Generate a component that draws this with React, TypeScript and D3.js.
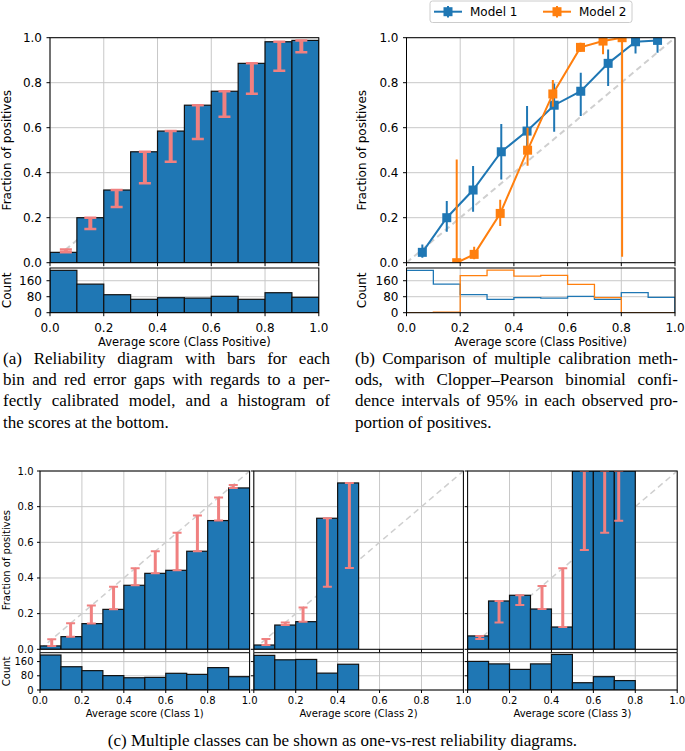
import React from "react";
import * as d3 from "d3";

// ---- data ----
const binEdges = [0, 0.1, 0.2, 0.3, 0.4, 0.5, 0.6, 0.7, 0.8, 0.9, 1.0];
const xTickValues = [0, 0.2, 0.4, 0.6, 0.8, 1.0];
const fracTickValues = [0, 0.2, 0.4, 0.6, 0.8, 1.0];
const countTickValues = [0, 80, 160];

// (a) / model 1
const posFraction = [0.046, 0.2, 0.323, 0.493, 0.585, 0.7, 0.762, 0.886, 0.982, 0.988];
const posMeanScore = [0.059, 0.15, 0.248, 0.353, 0.449, 0.55, 0.649, 0.751, 0.853, 0.935];
const posCounts = [212, 143, 90, 67, 75, 73, 82, 67, 100, 77];
const model1Lo = [0.022, 0.138, 0.227, 0.37, 0.486, 0.582, 0.652, 0.785, 0.93, 0.933];
const model1Hi = [0.081, 0.274, 0.43, 0.616, 0.696, 0.797, 0.844, 0.948, 1.0, 1.0];

// (b) model 2
const model2Score = [0.187, 0.252, 0.349, 0.451, 0.545, 0.648, 0.732, 0.803];
const model2Fraction = [0.0, 0.037, 0.219, 0.5, 0.75, 0.957, 0.985, 1.0];
const model2Lo = [0.0, 0.015, 0.163, 0.431, 0.693, 0.938, 0.927, 0.027];
const model2Hi = [0.459, 0.071, 0.28, 0.6, 0.812, 0.978, 1.0, 1.0];
const model2Counts = [0, 3, 185, 213, 183, 187, 142, 75, 0, 0];

// (c) one-vs-rest
const class1Fraction = [0.019, 0.071, 0.144, 0.224, 0.359, 0.426, 0.443, 0.55, 0.722, 0.905];
const class1Mean = [0.056, 0.146, 0.245, 0.351, 0.454, 0.55, 0.654, 0.751, 0.852, 0.922];
const class1Counts = [197, 131, 109, 81, 69, 71, 94, 88, 126, 75];

const class2Fraction = [0.024, 0.136, 0.155, 0.735, 0.933];
const class2Mean = [0.058, 0.15, 0.235, 0.351, 0.456];
const class2Counts = [195, 170, 172, 95, 145];

const class3Fraction = [0.075, 0.271, 0.303, 0.226, 0.125, 1.0, 1.0, 1.0];
const class3Mean = [0.058, 0.15, 0.249, 0.355, 0.454, 0.557, 0.654, 0.721];
const class3Counts = [161, 147, 116, 147, 200, 41, 75, 53];

const captionA = [
  "(a) Reliability diagram with bars for each",
  "bin and red error gaps with regards to a per-",
  "fectly calibrated model, and a histogram of",
  "the scores at the bottom.",
];
const captionB = [
  "(b) Comparison of multiple calibration meth-",
  "ods, with Clopper\u2013Pearson binomial confi-",
  "dence intervals of 95% in each observed pro-",
  "portion of positives.",
];
const captionC = "(c) Multiple classes can be shown as one-vs-rest reliability diagrams.";

// ---- styling ----
const SANS = "DejaVu Sans, sans-serif";
const SERIF = "Liberation Serif, Times New Roman, serif";
const BLUE = "#1f77b4";
const ORANGE = "#ff7f0e";
const GAP = "#f08080";
const GRID = "#c8c8c8";
const DIAG = "#cfcfcf";

type Scale = d3.ScaleLinear<number, number>;
const fmt1 = d3.format(".1f");

interface PanelProps {
  id: string;
  x: Scale;
  y: Scale;
  xTicks: number[];
  yTicks: number[];
  xLabel?: (v: number) => string | null;
  yLabel?: (v: number) => string;
  fs: number;
  tick: number;
  xPad: number;
  yPad: number;
  children?: React.ReactNode;
}

function Panel({ id, x, y, xTicks, yTicks, xLabel, yLabel, fs, tick, xPad, yPad, children }: PanelProps) {
  const [l, r] = x.range();
  const [b, t] = y.range();
  return (
    <g>
      <clipPath id={id}>
        <rect x={l} y={t} width={r - l} height={b - t} />
      </clipPath>
      <g stroke={GRID} strokeWidth={1}>
        {xTicks.map((v) => (
          <line key={"gx" + v} x1={x(v)} x2={x(v)} y1={t} y2={b} />
        ))}
        {yTicks.map((v) => (
          <line key={"gy" + v} x1={l} x2={r} y1={y(v)} y2={y(v)} />
        ))}
      </g>
      <g clipPath={`url(#${id})`}>{children}</g>
      <rect x={l} y={t} width={r - l} height={b - t} fill="none" stroke="#000" strokeWidth={1} />
      <g stroke="#000" strokeWidth={1}>
        {xTicks.map((v) => (
          <line key={"tx" + v} x1={x(v)} x2={x(v)} y1={b} y2={b + tick} />
        ))}
        {yTicks.map((v) => (
          <line key={"ty" + v} x1={l - tick} x2={l} y1={y(v)} y2={y(v)} />
        ))}
      </g>
      <g fontFamily={SANS} fontSize={fs} fill="#000">
        {xLabel &&
          xTicks.map((v) => {
            const s = xLabel(v);
            return s == null ? null : (
              <text key={"lx" + v} x={x(v)} y={b + xPad} textAnchor="middle" dominantBaseline="central">
                {s}
              </text>
            );
          })}
        {yLabel &&
          yTicks.map((v) => (
            <text key={"ly" + v} x={l - yPad} y={y(v)} textAnchor="end" dominantBaseline="central">
              {yLabel(v)}
            </text>
          ))}
      </g>
    </g>
  );
}

function Diagonal({ x, y, w }: { x: Scale; y: Scale; w: number }) {
  return <line x1={x(0)} y1={y(0)} x2={x(1)} y2={y(1)} stroke={DIAG} strokeWidth={w} strokeDasharray="6,4" />;
}

function FracBars({ x, y, frac, mean, stem, capW, capS }: {
  x: Scale; y: Scale; frac: number[]; mean: number[]; stem: number; capW: number; capS: number;
}) {
  return (
    <g>
      {frac.map((f, i) => (
        <rect
          key={"b" + i}
          x={x(binEdges[i])}
          y={y(f)}
          width={x(binEdges[i + 1]) - x(binEdges[i])}
          height={y(0) - y(f)}
          fill={BLUE}
          stroke="#111"
          strokeWidth={1.2}
        />
      ))}
      {frac.map((f, i) => {
        const cx = x(mean[i]);
        return (
          <g key={"e" + i} stroke={GAP}>
            <line x1={cx} x2={cx} y1={y(f)} y2={y(mean[i])} strokeWidth={stem} />
            <line x1={cx - capW / 2} x2={cx + capW / 2} y1={y(f)} y2={y(f)} strokeWidth={capS} />
            <line x1={cx - capW / 2} x2={cx + capW / 2} y1={y(mean[i])} y2={y(mean[i])} strokeWidth={capS} />
          </g>
        );
      })}
    </g>
  );
}

function CountBars({ x, y, counts }: { x: Scale; y: Scale; counts: number[] }) {
  return (
    <g>
      {counts.map((c, i) => (
        <rect
          key={"c" + i}
          x={x(binEdges[i])}
          y={y(c)}
          width={x(binEdges[i + 1]) - x(binEdges[i])}
          height={y(0) - y(c)}
          fill={BLUE}
          stroke="#111"
          strokeWidth={1.2}
        />
      ))}
    </g>
  );
}

function stepPath(counts: number[], x: Scale, y: Scale) {
  let d = `M${x(binEdges[0])},${y(0)}`;
  counts.forEach((c, i) => {
    d += `V${y(c)}H${x(binEdges[i + 1])}`;
  });
  return d + `V${y(0)}`;
}

function ModelSeries({ x, y, score, frac, lo, hi, color }: {
  x: Scale; y: Scale; score: number[]; frac: number[]; lo: number[]; hi: number[]; color: string;
}) {
  const line = d3
    .line<number>()
    .x((_, i) => x(score[i]))
    .y((f) => y(f));
  return (
    <g>
      <path d={line(frac) ?? ""} fill="none" stroke={color} strokeWidth={2} />
      {frac.map((f, i) => (
        <line key={"er" + i} x1={x(score[i])} x2={x(score[i])} y1={y(lo[i])} y2={y(hi[i])} stroke={color} strokeWidth={2} />
      ))}
      {frac.map((f, i) => (
        <rect key={"m" + i} x={x(score[i]) - 4.5} y={y(f) - 4.5} width={9} height={9} fill={color} />
      ))}
    </g>
  );
}

let measureCtx: CanvasRenderingContext2D | null = null;
function measure(s: string, font: string) {
  if (!measureCtx) measureCtx = document.createElement("canvas").getContext("2d");
  if (!measureCtx) return s.length * 7;
  measureCtx.font = font;
  return measureCtx.measureText(s).width;
}

function Justified({ lines, x0, x1, y0, lh, fs }: { lines: string[]; x0: number; x1: number; y0: number; lh: number; fs: number }) {
  const font = `${fs}px "Liberation Serif"`;
  return (
    <text fontFamily={SERIF} fontSize={fs} fill="#000" dominantBaseline="central">
      {lines.map((ln, li) => {
        const yy = y0 + li * lh;
        if (li === lines.length - 1)
          return (
            <tspan key={"l" + li} x={x0} y={yy}>
              {ln}
            </tspan>
          );
        const words = ln.split(" ");
        const widths = words.map((w) => measure(w, font));
        const gap = (x1 - x0 - d3.sum(widths)) / (words.length - 1);
        let cx = x0;
        return words.map((w, wi) => {
          const el = (
            <tspan key={`w${li}-${wi}`} x={cx} y={yy}>
              {w}
            </tspan>
          );
          cx += widths[wi] + gap;
          return el;
        });
      })}
    </text>
  );
}

function RotLabel({ x, y, text, fs }: { x: number; y: number; text: string; fs: number }) {
  return (
    <text transform={`translate(${x},${y}) rotate(-90)`} textAnchor="middle" dominantBaseline="central" fontFamily={SANS} fontSize={fs}>
      {text}
    </text>
  );
}

export default function App() {
  // top row geometry
  const mainTop = 37.7, mainBottom = 262.7, cntTop = 268, cntBottom = 312.7;
  const abMax = (d3.max([...posCounts, ...model2Counts]) ?? 0) * 1.05;
  const yFracAB = d3.scaleLinear().domain([0, 1]).range([mainBottom, mainTop]);
  const yCntAB = d3.scaleLinear().domain([0, abMax]).range([cntBottom, cntTop]);
  const xA = d3.scaleLinear().domain([0, 1]).range([50, 318.8]);
  const xB = d3.scaleLinear().domain([0, 1]).range([406.5, 675]);

  // bottom row geometry
  const cMainTop = 471, cMainBottom = 649.3, cCntTop = 652.7, cCntBottom = 690;
  const cMax = (d3.max([...class1Counts, ...class2Counts, ...class3Counts]) ?? 0) * 1.05;
  const yFracC = d3.scaleLinear().domain([0, 1]).range([cMainBottom, cMainTop]);
  const yCntC = d3.scaleLinear().domain([0, cMax]).range([cCntBottom, cCntTop]);
  const subW = 209.6;
  const subLefts = [40, 253.8, 467.6];
  const xC = subLefts.map((l) => d3.scaleLinear().domain([0, 1]).range([l, l + subW]));
  const classes = [
    { frac: class1Fraction, mean: class1Mean, counts: class1Counts, name: "Average score (Class 1)" },
    { frac: class2Fraction, mean: class2Mean, counts: class2Counts, name: "Average score (Class 2)" },
    { frac: class3Fraction, mean: class3Mean, counts: class3Counts, name: "Average score (Class 3)" },
  ];

  const abCommon = { fs: 12, tick: 3.5, xPad: 15.5, yPad: 8 };
  const cCommon = { fs: 10, tick: 3, xPad: 10.5, yPad: 6.5 };

  return (
    <svg width={685} height={751} style={{ position: "absolute", left: 0, top: 0, background: "#fff" }}>
      <rect width={685} height={751} fill="#fff" />

      {/* (a) */}
      <Panel id="a-main" x={xA} y={yFracAB} xTicks={xTickValues} yTicks={fracTickValues} yLabel={fmt1} {...abCommon}>
        <Diagonal x={xA} y={yFracAB} w={2} />
        <FracBars x={xA} y={yFracAB} frac={posFraction} mean={posMeanScore} stem={4} capW={12} capS={2.5} />
      </Panel>
      <Panel id="a-cnt" x={xA} y={yCntAB} xTicks={xTickValues} yTicks={countTickValues} xLabel={fmt1} yLabel={(v) => String(v)} {...abCommon}>
        <CountBars x={xA} y={yCntAB} counts={posCounts} />
      </Panel>
      <RotLabel x={7} y={(mainTop + mainBottom) / 2} text="Fraction of positives" fs={12} />
      <RotLabel x={7} y={(cntTop + cntBottom) / 2} text="Count" fs={12} />
      <text x={(xA(0) + xA(1)) / 2} y={342} textAnchor="middle" dominantBaseline="central" fontFamily={SANS} fontSize={11.5}>
        Average score (Class Positive)
      </text>

      {/* (b) */}
      <Panel id="b-main" x={xB} y={yFracAB} xTicks={xTickValues} yTicks={fracTickValues} yLabel={fmt1} {...abCommon}>
        <Diagonal x={xB} y={yFracAB} w={2} />
        <ModelSeries x={xB} y={yFracAB} score={posMeanScore} frac={posFraction} lo={model1Lo} hi={model1Hi} color={BLUE} />
        <ModelSeries x={xB} y={yFracAB} score={model2Score} frac={model2Fraction} lo={model2Lo} hi={model2Hi} color={ORANGE} />
      </Panel>
      <Panel id="b-cnt" x={xB} y={yCntAB} xTicks={xTickValues} yTicks={countTickValues} xLabel={fmt1} yLabel={(v) => String(v)} {...abCommon}>
        <path d={stepPath(posCounts, xB, yCntAB)} fill="none" stroke={BLUE} strokeWidth={1.3} />
        <path d={stepPath(model2Counts, xB, yCntAB)} fill="none" stroke={ORANGE} strokeWidth={1.3} />
      </Panel>
      <RotLabel x={362} y={(mainTop + mainBottom) / 2} text="Fraction of positives" fs={12} />
      <RotLabel x={362} y={(cntTop + cntBottom) / 2} text="Count" fs={12} />
      <text x={(xB(0) + xB(1)) / 2} y={342} textAnchor="middle" dominantBaseline="central" fontFamily={SANS} fontSize={11.5}>
        Average score (Class Positive)
      </text>

      {/* legend */}
      <g fontFamily={SANS} fontSize={12}>
        <rect x={430} y={1} width={202} height={21.5} rx={2.5} fill="#fff" stroke="#ccc" strokeWidth={1} />
        {[
          { c: BLUE, t: "Model 1", x: 434 },
          { c: ORANGE, t: "Model 2", x: 543 },
        ].map((e) => (
          <g key={e.t}>
            <line x1={e.x} x2={e.x + 28} y1={11.7} y2={11.7} stroke={e.c} strokeWidth={2} />
            <line x1={e.x + 14} x2={e.x + 14} y1={6} y2={17.4} stroke={e.c} strokeWidth={2} />
            <rect x={e.x + 9.5} y={7.2} width={9} height={9} fill={e.c} />
            <text x={e.x + 36} y={11.7} dominantBaseline="central">
              {e.t}
            </text>
          </g>
        ))}
      </g>

      <Justified lines={captionA} x0={3} x1={330} y0={358} lh={21.2} fs={17} />
      <Justified lines={captionB} x0={355} x1={678} y0={358} lh={21.2} fs={17} />

      {/* (c) */}
      {classes.map((cl, k) => {
        const xs = xC[k];
        const lab = (v: number) => (k > 0 && v === 0 ? null : fmt1(v));
        return (
          <g key={"c" + k}>
            <Panel id={`c-main-${k}`} x={xs} y={yFracC} xTicks={xTickValues} yTicks={fracTickValues} yLabel={k === 0 ? fmt1 : undefined} {...cCommon}>
              <Diagonal x={xs} y={yFracC} w={1.5} />
              <FracBars x={xs} y={yFracC} frac={cl.frac} mean={cl.mean} stem={3} capW={9} capS={2} />
            </Panel>
            <Panel id={`c-cnt-${k}`} x={xs} y={yCntC} xTicks={xTickValues} yTicks={countTickValues} xLabel={lab} yLabel={k === 0 ? (v) => String(v) : undefined} {...cCommon}>
              <CountBars x={xs} y={yCntC} counts={cl.counts} />
            </Panel>
            <text x={xs(0.5)} y={713} textAnchor="middle" dominantBaseline="central" fontFamily={SANS} fontSize={10}>
              {cl.name}
            </text>
          </g>
        );
      })}
      <RotLabel x={6} y={(cMainTop + cMainBottom) / 2} text="Fraction of positives" fs={10} />
      <RotLabel x={6} y={(cCntTop + cCntBottom) / 2} text="Count" fs={10} />

      <text x={342.5} y={740} textAnchor="middle" dominantBaseline="central" fontFamily={SERIF} fontSize={17}>
        {captionC}
      </text>
    </svg>
  );
}
